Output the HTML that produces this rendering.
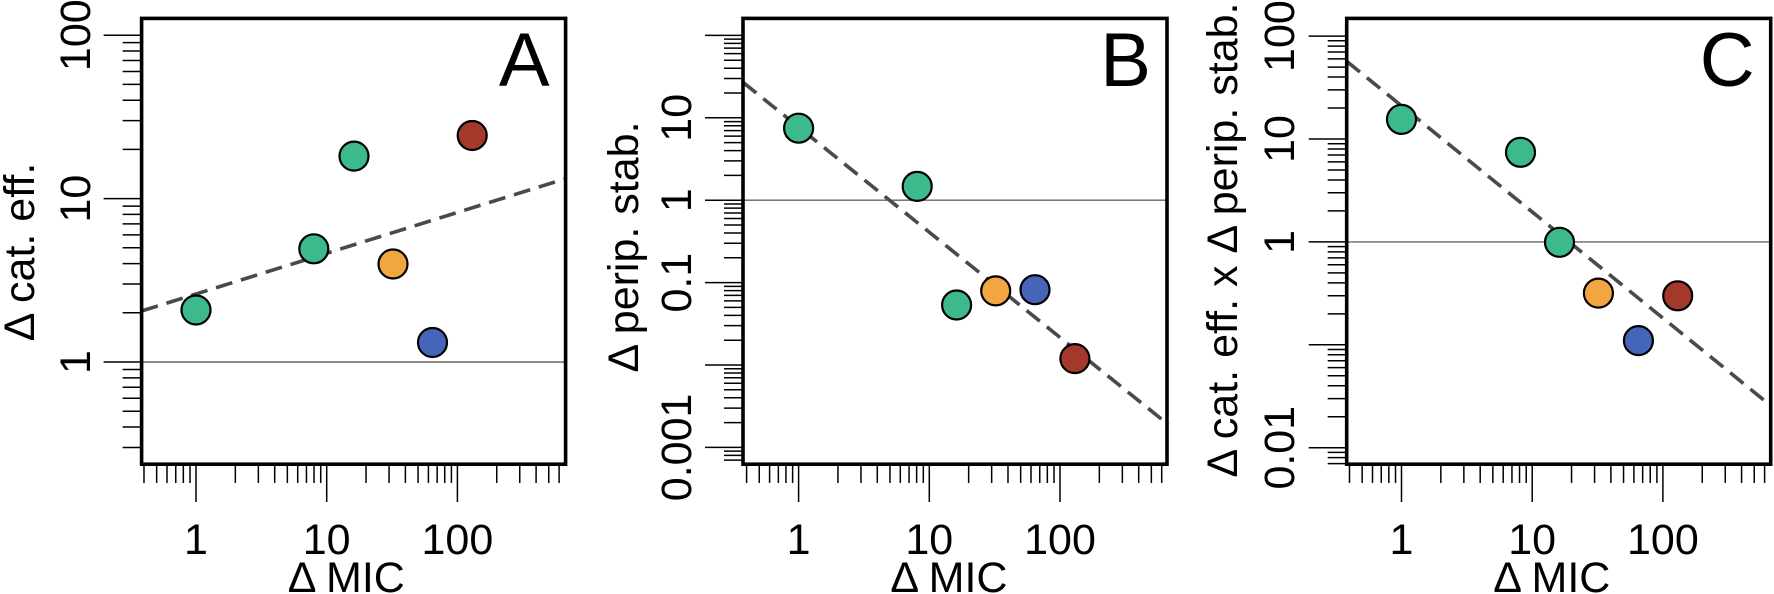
<!DOCTYPE html>
<html><head><meta charset="utf-8"><style>
html,body{margin:0;padding:0;background:#fff;}
svg{display:block;}
text{font-family:"Liberation Sans",Arial,sans-serif;fill:#000;}
</style></head><body>
<svg id="s" width="1774" height="594" viewBox="0 0 1774 594" xmlns="http://www.w3.org/2000/svg"></svg>
<script>
const NS="http://www.w3.org/2000/svg";
const svg=document.getElementById('s');
function el(t,a,txt){const e=document.createElementNS(NS,t);for(const k in a)e.setAttribute(k,a[k]);if(txt!==undefined)e.textContent=txt;svg.appendChild(e);return e;}
const TOP=18.4,BOT=464.2,W=424,DX=130.7,FS=43;
const G='#3dba8b',O='#f1a642',B='#4565b9',R='#a3392b';
const panels=[
 {L:141.6,x1:196,y1:362,dy:163.4,lab:['1','10','100'],labPow:[0,1,2],ymin:-0.63,ymax:2.11,
  hl:362,dash:[[141.6,311],[565.6,178.7]],ylab:'Δ cat. eff.',ylx:34,yly:252,tlx:90,letter:'A',
  pts:[[196,310,G],[313.8,248.8,G],[354,156.1,G],[393,264,O],[432.5,342.5,B],[472.2,135.5,R]]},
 {L:743,x1:798.6,y1:200.2,dy:82.4,lab:['10','1','0.1','0.001'],labPow:[1,0,-1,-3],ymin:-3.2,ymax:2.21,
  hl:200.2,dash:[[743,82.3],[1168.6,424.8]],ylab:'Δ perip. stab.',ylx:638,yly:247,tlx:691,letter:'B',
  pts:[[798.6,128.2,G],[917.2,186.4,G],[956.6,305,G],[995.7,290.9,O],[1035,289.7,B],[1074.9,358.6,R]]},
 {L:1346.7,x1:1401.5,y1:241.9,dy:102.9,lab:['100','10','1','0.01'],labPow:[2,1,0,-2],ymin:-2.16,ymax:2.17,
  hl:241.9,dash:[[1346.7,61.3],[1770.7,405.6]],ylab:'Δ cat. eff. x Δ perip. stab.',ylx:1237,yly:240,tlx:1294,letter:'C',
  pts:[[1401.5,119.4,G],[1520.5,152.3,G],[1559.5,242.3,G],[1598.4,293.1,O],[1638.4,340.6,B],[1677.7,295.8,R]]}
];
for(const p of panels){
  const R_=p.L+W;
  el('line',{x1:p.L,x2:R_,y1:p.hl,y2:p.hl,stroke:'#666','stroke-width':1.4});
  el('line',{x1:p.dash[0][0],y1:p.dash[0][1],x2:p.dash[1][0],y2:p.dash[1][1],stroke:'#4a4a4a','stroke-width':3.6,'stroke-dasharray':'17 9'});
  for(const q of p.pts) el('circle',{cx:q[0],cy:q[1],r:14.5,fill:q[2],stroke:'#000','stroke-width':2.2});
  el('rect',{x:p.L,y:TOP,width:W,height:BOT-TOP,fill:'none',stroke:'#000','stroke-width':3.6});
  for(let d=-1;d<=2;d++){for(let m=1;m<=9;m++){
    const v=d+Math.log10(m);const x=p.x1+v*DX;
    if(x<p.L+2||x>R_-2)continue;
    el('line',{x1:x,x2:x,y1:BOT,y2:m==1?502:483,stroke:'#000','stroke-width':1.5});
  }}
  ['1','10','100'].forEach((t,i)=>el('text',{x:p.x1+i*DX,y:554,'font-size':FS,'text-anchor':'middle'},t));
  el('text',{x:p.x1+1.15*DX,y:592,'font-size':FS,'text-anchor':'middle'},'Δ MIC');
  for(let d=-4;d<=2;d++){for(let m=1;m<=9;m++){
    const v=d+Math.log10(m);if(v<p.ymin||v>p.ymax)continue;
    const y=p.y1-v*p.dy;
    el('line',{x1:p.L,x2:m==1?p.L-38:p.L-19,y1:y,y2:y,stroke:'#000','stroke-width':1.5});
  }}
  p.labPow.forEach((pw,i)=>{const y=p.y1-pw*p.dy;
    el('text',{x:p.tlx,y:y,'font-size':FS,'text-anchor':'middle',transform:`rotate(-90 ${p.tlx} ${y})`},p.lab[i]);});
  el('text',{x:p.ylx,y:p.yly,'font-size':FS,'text-anchor':'middle',transform:`rotate(-90 ${p.ylx} ${p.yly})`},p.ylab);
  el('text',{x:R_-16,y:86,'font-size':76,'text-anchor':'end'},p.letter);
}
</script>
</body></html>
